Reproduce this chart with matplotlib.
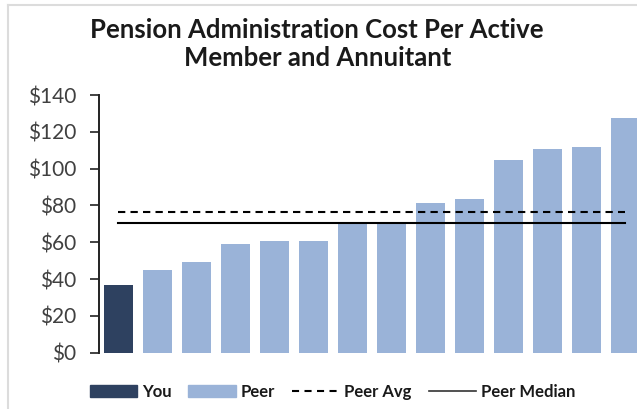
import matplotlib.pyplot as plt
from matplotlib.patches import Patch
from matplotlib.lines import Line2D

# values
you_value = [36.6]
peer_values = [45.1, 49.5, 59.2, 60.5, 60.5, 70.6, 70.6, 81.5, 83.4, 104.9, 110.9, 111.6, 127.5]
peer_avg = 76.3
peer_median = 70.6
y_ticks = [0, 20, 40, 60, 80, 100, 120, 140]
legend_labels = ['You', 'Peer', 'Peer Avg', 'Peer Median']

navy = '#2E4160'
light = '#9AB3D8'

fig = plt.figure(figsize=(6.37, 4.09), dpi=100)
ax = fig.add_axes([98.7 / 637, 56.3 / 409, 546 / 637, 257.7 / 409])

n = len(you_value) + len(peer_values)
x = list(range(n))
ax.bar(x[:1], you_value, width=0.74, color=navy)
ax.bar(x[1:], peer_values, width=0.74, color=light)

# average and median lines run from first to last bar centre
ax.plot([x[0], x[-1]], [peer_avg, peer_avg], color='black', lw=1.5, dashes=(3.5, 2.5))
ax.plot([x[0], x[-1]], [peer_median, peer_median], color='black', lw=1.5)

ax.set_xlim(-0.5, n - 0.5)
ax.set_ylim(0, 140)
ax.set_yticks(y_ticks)
ax.set_yticklabels([f'${v}' for v in y_ticks], fontsize=15, color='#404040', family='Lato')
ax.set_xticks([])
for s in ['top', 'right', 'bottom']:
    ax.spines[s].set_visible(False)
ax.spines['left'].set_linewidth(1.4)
ax.spines['left'].set_color('#222222')
ax.tick_params(axis='y', length=6.3, width=1.2, color='#222222', pad=10)

fig.text(0.498, 0.893, 'Pension Administration Cost Per Active\nMember and Annuitant',
         ha='center', va='center', fontsize=18.5, fontweight='bold', family='Lato',
         color='#1a1a1a', linespacing=1.22)

handles = [Patch(color=navy), Patch(color=light),
           Line2D([], [], color='black', lw=1.5, dashes=(3.4, 2.6)),
           Line2D([], [], color='#333333', lw=1.2)]
leg = fig.legend(handles, legend_labels, loc='center', bbox_to_anchor=(0.522, 0.042),
                 ncol=4, frameon=False, handlelength=2.85, handletextpad=0.3,
                 columnspacing=1.0, prop={'family': 'Lato', 'weight': 'bold', 'size': 12})
for t in leg.get_texts():
    t.set_color('#1a1a1a')

# light frame of the original chart area
fig.add_artist(Line2D([8 / 637, 8 / 637], [0, 1 - 5 / 409], color='#dcdcdc', lw=1.5,
                      transform=fig.transFigure))
fig.add_artist(Line2D([8 / 637, 1], [1 - 5 / 409, 1 - 5 / 409], color='#dcdcdc', lw=1.5,
                      transform=fig.transFigure))

fig.savefig('out.png', dpi=100)
